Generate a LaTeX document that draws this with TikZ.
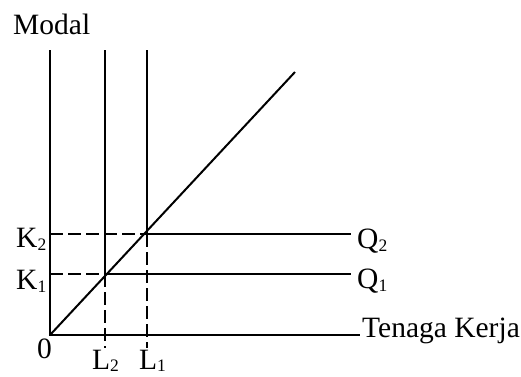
\documentclass[tikz,border=0pt]{standalone}
\usepackage{fontspec}
\setmainfont{Liberation Serif}
\newcommand\subsc[1]{\raisebox{-3pt}{\fontsize{17.5}{17.5}\selectfont #1}}
\newcommand\subsl[1]{\raisebox{-2pt}{\fontsize{17.5}{17.5}\selectfont #1}}
\begin{document}
\begin{tikzpicture}[x=1pt,y=-1pt,
  axisline/.style={line width=2pt},
  guide/.style={line width=2pt, dash pattern=on 12.5pt off 5.5pt},
  lbl/.style={anchor=base west, inner sep=0pt, font=\fontsize{29.5}{31}\selectfont}]
\useasboundingbox (0,0) rectangle (521,376);
% points
\coordinate (O) at (50,335);
\coordinate (ytop) at (50,50);
\coordinate (xend) at (360,335);
\coordinate (l2top) at (105,50);
\coordinate (l1top) at (147,50);
\coordinate (P1) at (105,274);
\coordinate (P2) at (147,234);
\coordinate (diagend) at (295,72);
\coordinate (k1y) at (50,274);
\coordinate (k2y) at (50,234);
\coordinate (q1end) at (351,274);
\coordinate (q2end) at (351,234);
\coordinate (l2bot) at (105,348);
\coordinate (l1bot) at (147,348);
% solid lines
\draw[axisline] (ytop) -- (O) -- (xend);
\draw[axisline] (l2top) -- (P1);
\draw[axisline] (l1top) -- (P2);
\draw[axisline] (O) -- (diagend);
\draw[axisline] (P1) -- (q1end);
\draw[axisline] (P2) -- (q2end);
% dashed guides
\draw[guide] (k1y) -- (P1);
\draw[guide] (k2y) -- (P2);
\draw[guide] (P1) -- (l2bot);
\draw[guide] (P2) -- (l1bot);
% labels
\node[lbl] (modal) at (13,34) {Modal};
\node[lbl] (k2) at (16,247) {K\subsc{2}};
\node[lbl] (k1) at (16,289) {K\subsc{1}};
\node[lbl] (zero) at (37,358) {0};
\node[lbl] (l2) at (92,369) {L\subsl{2}};
\node[lbl] (l1) at (139,369) {L\subsl{1}};
\node[lbl] (q2) at (357,248) {Q\subsc{2}};
\node[lbl] (q1) at (357,288) {Q\subsc{1}};
\node[lbl] (tk) at (362,337) {Tenaga Kerja};
\end{tikzpicture}
\end{document}
